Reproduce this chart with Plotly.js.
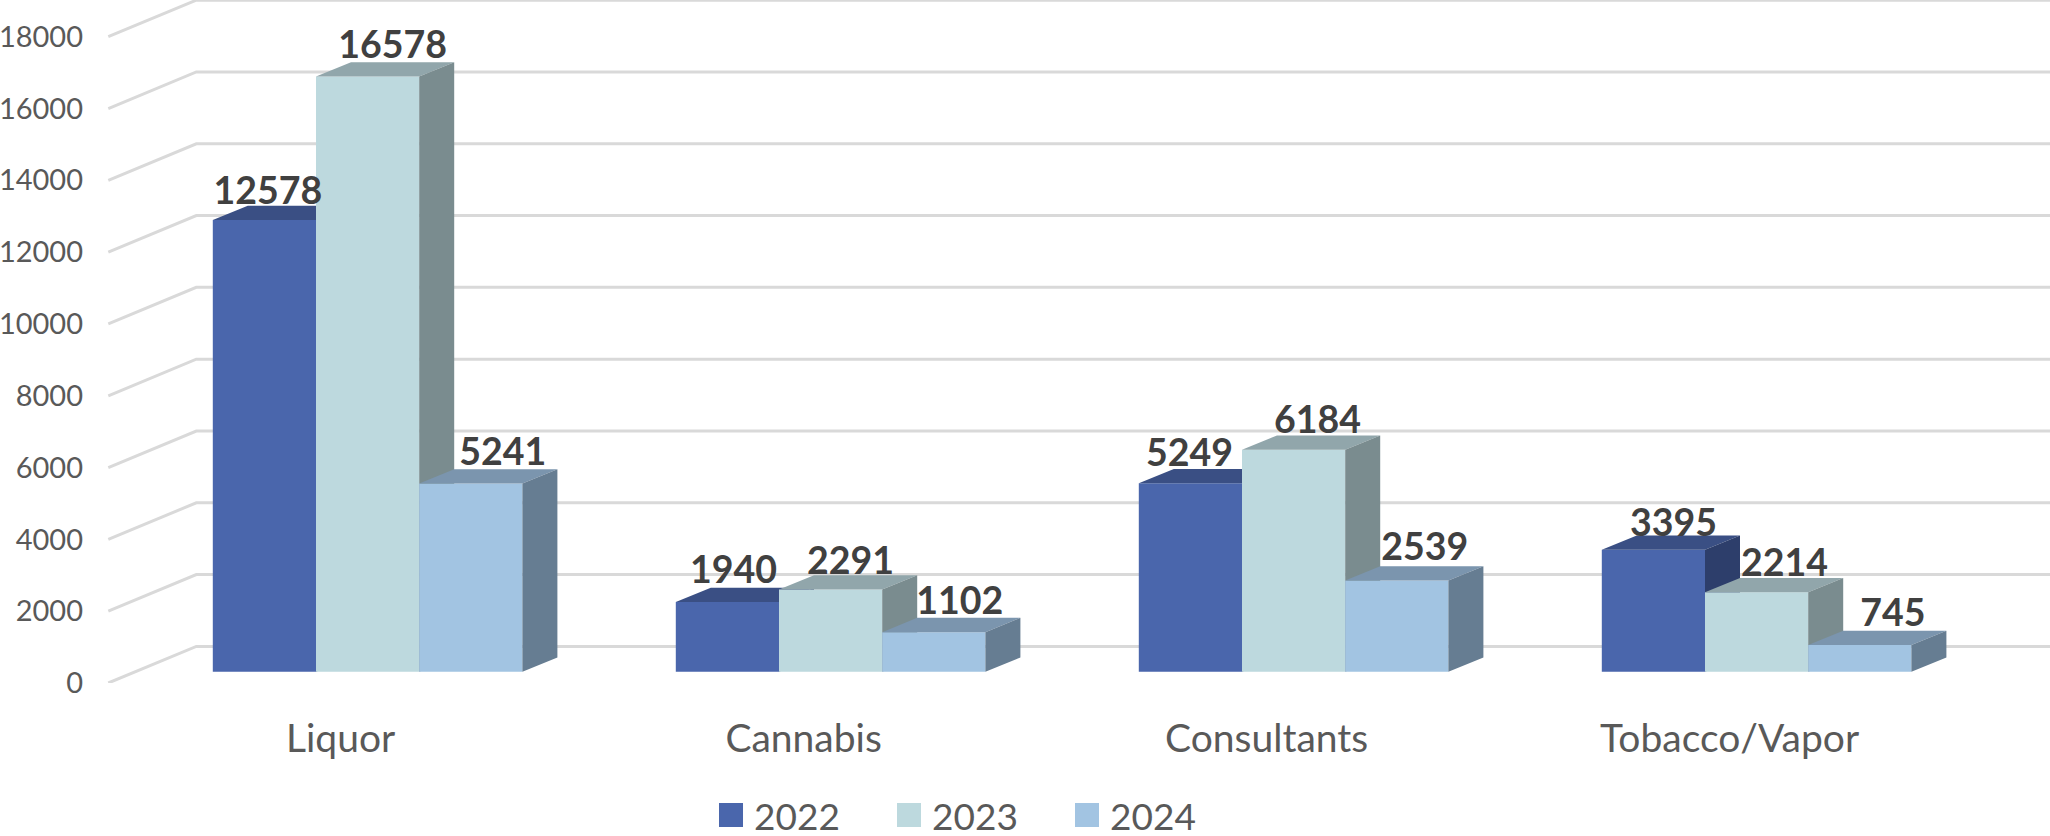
<!DOCTYPE html>
<html>
<head>
<meta charset="utf-8">
<script src="https://cdn.plot.ly/plotly-3.0.1.min.js"></script>
<style>html,body{margin:0;padding:0;background:#fff}#chart{width:2050px;height:836px}</style>
</head>
<body>
<div id="chart"></div>
<script>
// ---- data ----
const categories = ["Liquor", "Cannabis", "Consultants", "Tobacco/Vapor"];
const seriesNames = ["2022", "2023", "2024"];
const values2022 = [12578, 1940, 5249, 3395];
const values2023 = [16578, 2291, 6184, 2214];
const values2024 = [5241, 1102, 2539, 745];
const yTicks = [0, 2000, 4000, 6000, 8000, 10000, 12000, 14000, 16000, 18000];

// ---- colours ----
const frontColors = ["#4A66AC", "#BDD9DE", "#A2C4E2"];
const topColors = ["#3A4F84", "#91A6AB", "#7B95AE"];
const sideColors = ["#2D3E6B", "#7A8C8F", "#667D92"];

// ---- label nudges in pixels (dx, dy) relative to bar front-top centre ----
const labelDx = [[3.5, 6, -1, 20], [25, 20, 24, 28], [32, 26, 28, 33]];
const labelDy = [[25, 28, 27, 23], [27.5, 25, 26, 26], [28, 28, 30, 28]];

// ---- projection ----
const pxPerCat = 463, cat0Px = 367.6, plotLeft = 84;
const pxPerUnit = 0.03592, wallFloorPx = 683.3;
const barW = 103.2 / pxPerCat;
const baseVal = (wallFloorPx - 672) / pxPerUnit;
const depthX = 35 / pxPerCat, depthY = 14.3 / pxPerUnit;
const wallX = 88 / pxPerCat, wallY = 36.6 / pxPerUnit;
const xRange = [(plotLeft - cat0Px) / pxPerCat, (2050 - cat0Px) / pxPerCat];
const yRange = [0, wallFloorPx / pxPerUnit];
const wallFrontX = (108.3 - cat0Px) / pxPerCat;

const allValues = [values2022, values2023, values2024];
const traces = [];

// back wall gridlines + oblique side-wall lines
const gx = [], gy = [];
yTicks.forEach(v => {
  gx.push(wallFrontX, wallFrontX + wallX, xRange[1], null);
  gy.push(v, v + wallY, v + wallY, null);
});
traces.push({type: "scatter", mode: "lines", x: gx, y: gy, xaxis: "x", yaxis: "y",
  line: {color: "#D9D9D9", width: 3}, hoverinfo: "skip", showlegend: false});

allValues.forEach((vals, s) => {
  const ax = String(s + 2);
  const cats = vals.map((_, i) => i);
  const off = -1.5 * barW + s * barW;
  traces.push({type: "bar", name: seriesNames[s], x: cats, y: vals, base: baseVal,
    width: barW, offset: off, xaxis: "x" + ax, yaxis: "y" + ax,
    marker: {color: frontColors[s], line: {width: 0}}, hoverinfo: "name+y"});
  const tx = [], ty = [], sx = [], sy = [];
  vals.forEach((v, i) => {
    const l = i + off, r = l + barW, t = baseVal + v;
    tx.push(l, r, r + depthX, l + depthX, l, null);
    ty.push(t, t, t + depthY, t + depthY, t, null);
    sx.push(r, r + depthX, r + depthX, r, r, null);
    sy.push(baseVal, baseVal + depthY, t + depthY, t, baseVal, null);
  });
  [[tx, ty, topColors[s]], [sx, sy, sideColors[s]]].forEach(p => {
    traces.push({type: "scatter", mode: "lines", x: p[0], y: p[1], fill: "toself",
      fillcolor: p[2], line: {width: 0, color: p[2]}, xaxis: "x" + ax, yaxis: "y" + ax,
      hoverinfo: "skip", showlegend: false});
  });
});

// data labels on top of everything
const lx = [], ly = [], lt = [];
allValues.forEach((vals, s) => vals.forEach((v, i) => {
  lx.push(i + (s - 1) * barW + labelDx[s][i] / pxPerCat);
  ly.push(baseVal + v + labelDy[s][i] / pxPerUnit);
  lt.push(String(v));
}));
traces.push({type: "scatter", mode: "text", x: lx, y: ly, text: lt, textposition: "middle center",
  textfont: {family: "Lato", size: 37.5, color: "#404040", weight: 700},
  xaxis: "x4", yaxis: "y4", hoverinfo: "skip", showlegend: false, cliponaxis: false});

const layout = {
  width: 2050, height: 836,
  margin: {l: plotLeft, r: 0, t: 0, b: 836 - wallFloorPx, pad: 0},
  paper_bgcolor: "#FFFFFF", plot_bgcolor: "#FFFFFF",
  font: {family: "Lato", color: "#595959"},
  showlegend: true,
  legend: {orientation: "h", xref: "paper", yref: "container", x: 0.3174, y: 0.0245,
    xanchor: "left", yanchor: "middle", font: {family: "Lato", size: 37, color: "#595959"},
    itemwidth: 36, entrywidth: 127, entrywidthmode: "pixels", traceorder: "normal",
    bgcolor: "rgba(0,0,0,0)", tracegroupgap: 0},
  xaxis: {range: xRange, type: "linear", showgrid: false, zeroline: false, showline: false,
    tickmode: "array", tickvals: categories.map((_, i) => i - 27 / pxPerCat), ticktext: categories,
    ticks: "", ticklabelstandoff: 29, tickfont: {family: "Lato", size: 39, color: "#595959"}, automargin: false},
  yaxis: {range: yRange, type: "linear", showgrid: false, zeroline: false, showline: false,
    tickmode: "array", tickvals: yTicks, ticktext: yTicks.map(String), ticks: "",
    tickfont: {family: "Lato", size: 29, color: "#595959"}, automargin: false}
};
["2", "3", "4"].forEach(a => {
  layout["xaxis" + a] = {range: xRange, type: "linear", overlaying: "x", visible: false};
  layout["yaxis" + a] = {range: yRange, type: "linear", overlaying: "y", visible: false};
});

function enlargeSwatches() {
  document.querySelectorAll("#chart .legend .legendpoints path").forEach(p => {
    p.setAttribute("d", "M12,12H-12V-12H12Z");
  });
}
const gd = document.getElementById("chart");
Plotly.newPlot(gd, traces, layout, {displayModeBar: false}).then(() => {
  enlargeSwatches();
  gd.on("plotly_afterplot", enlargeSwatches);
  setTimeout(enlargeSwatches, 50);
});
</script>
</body>
</html>
